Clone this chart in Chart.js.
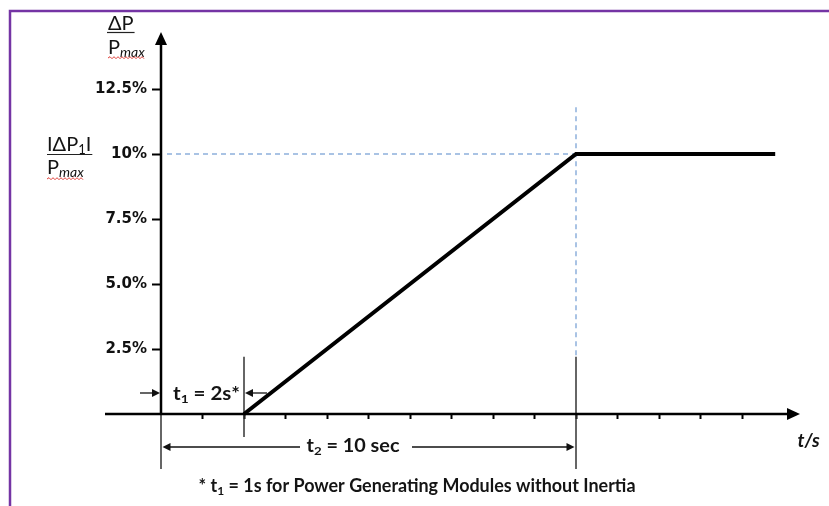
<!DOCTYPE html>
<html><head><meta charset="utf-8">
<script src="https://cdn.jsdelivr.net/npm/chart.js@4.4.1/dist/chart.umd.min.js"></script>
<style>html,body{margin:0;padding:0;background:#fff;}canvas{display:block;}</style>
</head><body>
<canvas id="c" width="829" height="506"></canvas>
<script>
// ---- data ----
const rampTime = [2, 10, 14.8];
const rampPower = [0, 10, 10];
const yTickValues = [2.5, 5, 7.5, 10, 12.5];
const yTickLabels = ['2.5%', '5.0%', '7.5%', '10%', '12.5%'];
const xTickValues = [1, 2, 3, 4, 5, 6, 7, 8, 9, 10, 11, 12, 13, 14];
const t1Value = 2;
const t2Value = 10;
const plateauValue = 10;
const refVRange = [2.2, 11.8];

const TXT = '#141414';

function drawRuns(ctx, parts, x, y, align, targetW) {
  const font = p => `${p.style || 'normal'} ${p.weight || 'normal'} ${p.size}px Lato`;
  const W0 = parts.reduce((w, p) => { ctx.font = font(p); return w + ctx.measureText(p.text).width; }, 0);
  let sx = 1;
  if (targetW) sx = Math.max(0.75, Math.min(1.25, targetW / W0));
  const W = W0 * sx;
  const x0 = align === 'center' ? x - W / 2 : align === 'right' ? x - W : x;
  ctx.save();
  ctx.translate(x0, y); ctx.scale(sx, 1);
  ctx.textAlign = 'left'; ctx.textBaseline = 'alphabetic'; ctx.fillStyle = TXT;
  let cx = 0;
  parts.forEach(p => { ctx.font = font(p); ctx.fillText(p.text, cx, p.dy || 0); cx += ctx.measureText(p.text).width; });
  ctx.restore();
  return { x0, x1: x0 + W };
}
function wavy(ctx, x0, x1, y) {
  ctx.save(); ctx.strokeStyle = '#e0403a'; ctx.lineWidth = 1; ctx.setLineDash([]);
  ctx.beginPath(); let up = true; ctx.moveTo(x0, y);
  for (let x = x0 + 2; x <= x1; x += 2) { ctx.lineTo(x, up ? y - 1.3 : y + 0.7); up = !up; }
  ctx.stroke(); ctx.restore();
}
function arrowHead(ctx, tx, ty, dir, len, half) {
  ctx.beginPath();
  if (dir === 'right') { ctx.moveTo(tx, ty); ctx.lineTo(tx - len, ty - half); ctx.lineTo(tx - len, ty + half); }
  if (dir === 'left') { ctx.moveTo(tx, ty); ctx.lineTo(tx + len, ty - half); ctx.lineTo(tx + len, ty + half); }
  if (dir === 'up') { ctx.moveTo(tx, ty); ctx.lineTo(tx - half, ty + len); ctx.lineTo(tx + half, ty + len); }
  ctx.closePath(); ctx.fill();
}
function seg(ctx, x0, y0, x1, y1) { ctx.beginPath(); ctx.moveTo(x0, y0); ctx.lineTo(x1, y1); ctx.stroke(); }

const deco = {
  id: 'deco',
  beforeDraw(chart) {
    const ctx = chart.ctx;
    ctx.save();
    ctx.fillStyle = '#fff'; ctx.fillRect(0, 0, chart.width, chart.height);
    ctx.strokeStyle = '#7434a4'; ctx.lineWidth = 2.5;
    ctx.beginPath(); ctx.moveTo(chart.width, 11); ctx.lineTo(10, 11); ctx.lineTo(10, chart.height); ctx.stroke();
    ctx.restore();
  },
  beforeDatasetsDraw(chart) {
    const ctx = chart.ctx, xs = chart.scales.x, ys = chart.scales.y;
    const X = v => xs.getPixelForValue(v), Y = v => ys.getPixelForValue(v);
    ctx.save();
    ctx.strokeStyle = '#8db0dc'; ctx.lineWidth = 1.5; ctx.setLineDash([5, 4]);
    seg(ctx, X(0) + 6, Y(plateauValue), X(t2Value), Y(plateauValue));
    seg(ctx, X(t2Value), Y(refVRange[1]), X(t2Value), Y(refVRange[0]));
    ctx.setLineDash([]);
    ctx.strokeStyle = '#333'; ctx.lineWidth = 1.5;
    seg(ctx, X(0), Y(0), X(0), Y(0) + 55);
    seg(ctx, X(t1Value), Y(refVRange[0]), X(t1Value), Y(0) + 23);
    seg(ctx, X(t2Value), Y(refVRange[0]), X(t2Value), Y(0) + 55);
    ctx.strokeStyle = '#000'; ctx.fillStyle = '#000'; ctx.lineWidth = 2.5;
    const yTip = Y(12.5) - 57;
    seg(ctx, X(0), Y(0) + 1, X(0), yTip + 10);
    arrowHead(ctx, X(0), yTip, 'up', 13, 6);
    const xTip = X(15) + 16.5;
    seg(ctx, X(0) - 56, Y(0), xTip - 10, Y(0));
    arrowHead(ctx, xTip, Y(0), 'right', 13, 6);
    ctx.lineWidth = 1.3; ctx.strokeStyle = '#111'; ctx.fillStyle = '#111';
    const yd1 = Y(0) - 21;
    seg(ctx, X(0) - 21, yd1, X(0) - 7, yd1); arrowHead(ctx, X(0) - 1, yd1, 'right', 8, 4);
    seg(ctx, X(t1Value) + 23, yd1, X(t1Value) + 7, yd1); arrowHead(ctx, X(t1Value) + 1, yd1, 'left', 8, 4);
    const yd2 = Y(0) + 33;
    seg(ctx, X(0) + 139, yd2, X(0) + 8, yd2); arrowHead(ctx, X(0) + 1.5, yd2, 'left', 8, 4);
    seg(ctx, X(0) + 251, yd2, X(t2Value) - 8, yd2); arrowHead(ctx, X(t2Value) - 1.5, yd2, 'right', 8, 4);
    ctx.restore();
  },
  afterDraw(chart) {
    const ctx = chart.ctx, xs = chart.scales.x, ys = chart.scales.y;
    const X = v => xs.getPixelForValue(v), Y = v => ys.getPixelForValue(v);
    ctx.save();
    const ax = X(0) - 53;
    let r = drawRuns(ctx, [{ text: 'ΔP', size: 20 }], ax, Y(12.5) - 59, 'left');
    ctx.strokeStyle = '#222'; ctx.lineWidth = 1.2; seg(ctx, r.x0 - 1, Y(12.5) - 56.5, r.x1 + 1, Y(12.5) - 56.5);
    r = drawRuns(ctx, [{ text: 'P', size: 20 }, { text: 'max', size: 14, style: 'italic', dy: 3 }], ax, Y(12.5) - 35, 'left');
    wavy(ctx, r.x0, r.x1, Y(12.5) - 31);
    const bx = 47;
    r = drawRuns(ctx, [{ text: 'IΔP', size: 20 }, { text: '1', size: 13, dy: 3 }, { text: 'I', size: 20 }], bx, Y(plateauValue) - 3, 'left');
    ctx.strokeStyle = '#222'; seg(ctx, r.x0, Y(plateauValue) + 0.5, r.x1 + 1, Y(plateauValue) + 0.5);
    r = drawRuns(ctx, [{ text: 'P', size: 20 }, { text: 'max', size: 14, style: 'italic', dy: 3 }], bx, Y(plateauValue) + 20, 'left');
    wavy(ctx, r.x0, r.x1, Y(plateauValue) + 25);
    drawRuns(ctx, [{ text: 't', size: 18, weight: 'bold' }, { text: '1', size: 12, weight: 'bold', dy: 3 }, { text: ' = 2s*', size: 18, weight: 'bold' }],
      (X(0) + X(t1Value)) / 2 + 4, Y(0) - 14, 'center', 67);
    drawRuns(ctx, [{ text: 't', size: 18, weight: 'bold' }, { text: '2', size: 12, weight: 'bold', dy: 3 }, { text: ' = 10 sec', size: 18, weight: 'bold' }],
      X(0) + 192, Y(0) + 38, 'center', 93);
    drawRuns(ctx, [{ text: 't/s', size: 19, weight: 'bold', style: 'italic' }], X(15) + 14, Y(0) + 33, 'left');
    drawRuns(ctx, [{ text: '* t', size: 18, weight: 'bold' }, { text: '1', size: 12, weight: 'bold', dy: 3 },
      { text: ' = 1s for Power Generating Modules without Inertia', size: 18, weight: 'bold' }],
      417, Y(0) + 78, 'center', 437);
    ctx.restore();
  }
};

new Chart(document.getElementById('c'), {
  type: 'line',
  data: {
    datasets: [{
      data: rampTime.map((t, i) => ({ x: t, y: rampPower[i] })),
      borderColor: '#000', borderWidth: 4, pointRadius: 0, fill: false, tension: 0,
      borderCapStyle: 'butt', borderJoinStyle: 'miter', clip: false
    }]
  },
  options: {
    responsive: false, animation: false, devicePixelRatio: 1,
    layout: { padding: { top: 89, right: 45.5, left: 0, bottom: 0 } },
    plugins: { legend: { display: false }, tooltip: { enabled: false } },
    scales: {
      x: {
        type: 'linear', min: 0, max: 15, position: 'bottom',
        afterFit(s) { s.height = 92; },
        afterBuildTicks(s) { s.ticks = xTickValues.map(v => ({ value: v })); },
        grid: { drawOnChartArea: false, drawTicks: true, tickLength: 5, tickWidth: 2, tickColor: '#000' },
        border: { display: false },
        ticks: { display: true, callback: () => '' }
      },
      y: {
        type: 'linear', min: 0, max: 12.5, position: 'left',
        afterFit(s) { s.width = 161; },
        afterBuildTicks(s) { s.ticks = yTickValues.map(v => ({ value: v })); },
        grid: { drawOnChartArea: false, drawTicks: true, tickLength: 9, tickWidth: 2, tickColor: '#000' },
        border: { display: false },
        ticks: {
          padding: 5, color: '#111', font: { family: 'DejaVu Sans', weight: 'bold', size: 15 },
          callback: v => { const i = yTickValues.indexOf(v); return i >= 0 ? yTickLabels[i] : ''; }
        }
      }
    }
  },
  plugins: [deco]
});
</script>
</body></html>
